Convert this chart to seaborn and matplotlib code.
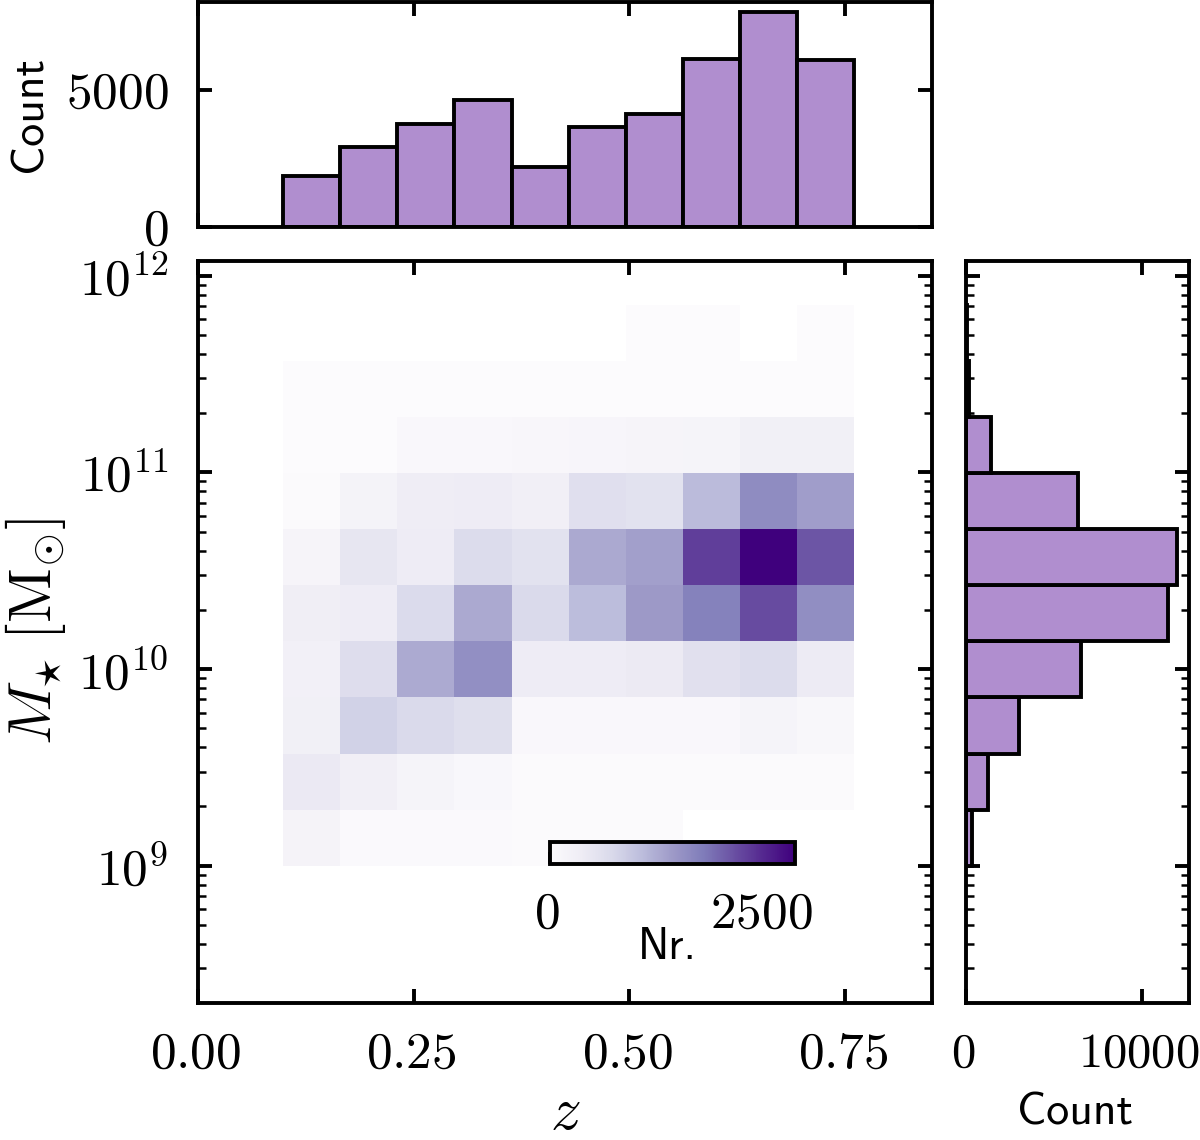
import numpy as np
import pandas as pd
import seaborn as sns
import matplotlib.pyplot as plt
from matplotlib.ticker import LogLocator, NullFormatter
from matplotlib.transforms import ScaledTranslation

z_edges = [0.099, 0.16515, 0.2313, 0.29745, 0.3636, 0.42975, 0.4959, 0.56205, 0.6282, 0.69435, 0.7605]
log_mass_edges = [9.0, 9.285, 9.57, 9.855, 10.14, 10.425, 10.71, 10.995, 11.28, 11.565, 11.85]

# counts per mass bin (bottom to top) and per redshift bin (left to right)
counts_2d = [
    [210, 50, 50, 45, 30, 30, 25, 0, 0, 0],
    [430, 310, 200, 110, 40, 30, 30, 25, 30, 30],
    [300, 820, 720, 630, 90, 90, 90, 90, 200, 120],
    [270, 650, 1270, 1570, 370, 370, 420, 600, 680, 400],
    [340, 370, 700, 1280, 720, 1080, 1450, 1730, 2190, 1580],
    [170, 500, 370, 680, 570, 1280, 1380, 2310, 2858, 2100],
    [40, 220, 350, 370, 320, 620, 570, 1090, 1600, 1400],
    [20, 20, 100, 90, 130, 150, 170, 200, 300, 300],
    [15, 15, 15, 15, 15, 15, 15, 15, 15, 15],
    [0, 0, 0, 0, 0, 0, 10, 10, 0, 10],
]
z_counts = [1855, 2915, 3757, 4635, 2184, 3647, 4122, 6134, 7853, 6098]
mass_counts = [340, 1250, 3020, 6550, 11500, 12000, 6370, 1400, 170, 30]

z_ticks = [0, 0.25, 0.5, 0.75]
z_ticklabels = ['$0.00$', '$0.25$', '$0.50$', '$0.75$']
mass_ticks = [1e9, 1e10, 1e11, 1e12]
mass_ticklabels = ['$10^{9}$', '$10^{10}$', '$10^{11}$', '$10^{12}$']

sns.set_style('ticks')
plt.rcParams['mathtext.fontset'] = 'cm'
plt.rcParams['axes.unicode_minus'] = False
plt.rcParams['font.family'] = ['cmss10', 'DejaVu Sans']
plt.rcParams['axes.formatter.use_mathtext'] = True
for key in ['text.color', 'axes.labelcolor', 'xtick.color', 'ytick.color']:
    plt.rcParams[key] = 'black'

W, H = 1200, 1140
hist_color = '#b08ecf'
lw = 2.8
tick_size = 37


def px_axes(fig, x0, y0, x1, y1):
    return fig.add_axes([x0 / W, 1 - y1 / H, (x1 - x0) / W, (y1 - y0) / H])


def nudge_labels(labels, fig, px):
    # the reference's tick labels sit a little left of their ticks
    for lbl in labels:
        lbl.set_transform(lbl.get_transform() + ScaledTranslation(px / 100, 0, fig.dpi_scale_trans))


fig = plt.figure(figsize=(W / 100, H / 100), dpi=100)
ax_main = px_axes(fig, 197.7, 260.7, 932.3, 1002.7)
ax_top = px_axes(fig, 197.7, 2, 932.3, 226.7)
ax_right = px_axes(fig, 966, 260.7, 1188.7, 1002.7)
cax = px_axes(fig, 550, 842, 794.7, 864)

z_mid = (np.array(z_edges[:-1]) + np.array(z_edges[1:])) / 2
mass_mid = 10 ** ((np.array(log_mass_edges[:-1]) + np.array(log_mass_edges[1:])) / 2)
zz, mm = np.meshgrid(z_mid, mass_mid)
df = pd.DataFrame({'z': zz.ravel(), 'mass': mm.ravel(), 'n': np.array(counts_2d).ravel()})

sns.histplot(data=df, x='z', y='mass', weights='n', bins=[z_edges, log_mass_edges],
             log_scale=(False, True), cmap='Purples', ax=ax_main, cbar=True, cbar_ax=cax,
             cbar_kws={'orientation': 'horizontal'})
sns.histplot(x=z_mid, weights=z_counts, bins=z_edges, ax=ax_top, color=hist_color,
             alpha=1, edgecolor='k', linewidth=lw)
sns.histplot(y=mass_mid, weights=mass_counts, bins=log_mass_edges, log_scale=True, ax=ax_right,
             color=hist_color, alpha=1, edgecolor='k', linewidth=lw)

ax_main.set_xlim(0, 0.851)
ax_top.set_xlim(0, 0.851)
ax_top.set_ylim(0, 8219)
ax_right.set_xlim(0, 12675)
for ax in (ax_main, ax_right):
    ax.set_ylim(10 ** 8.303, 10 ** 12.076)
    ax.set_yticks(mass_ticks)
    ax.yaxis.set_minor_locator(LogLocator(base=10, subs=np.arange(2, 10), numticks=20))
    ax.yaxis.set_minor_formatter(NullFormatter())

ax_main.set_xticks(z_ticks, z_ticklabels)
ax_main.set_yticklabels(mass_ticklabels)
ax_top.set_xticks(z_ticks, [])
ax_top.set_yticks([0, 5000], ['$0$', '$5000$'])
ax_right.set_xticks([0, 10000], ['$0$', '$10000$'])
ax_right.set_yticklabels([])

for ax in (ax_main, ax_top, ax_right):
    ax.tick_params(which='major', direction='in', top=True, right=True, length=10, width=lw,
                   labelsize=tick_size, pad=21)
    ax.tick_params(which='minor', direction='in', left=True, right=True, length=5.5, width=1.8)
    for spine in ax.spines.values():
        spine.set_linewidth(lw)
        spine.set_color('k')
ax_right.tick_params(axis='x', labelsize=35)
nudge_labels(ax_main.get_xticklabels(), fig, -2)
nudge_labels(ax_right.get_xticklabels(), fig, -3)

ax_main.set_xlabel('$z$', fontsize=44)
ax_main.xaxis.set_label_coords(0.5, -0.114)
ax_main.set_ylabel(r'$M_{\star}\;[\mathrm{M}_{\odot}]$', fontsize=43)
ax_main.yaxis.set_label_coords(-0.177, 0.5)
ax_top.set_xlabel('')
ax_top.set_ylabel('Count', fontsize=33)
ax_top.yaxis.set_label_coords(-0.2, 0.5)
ax_right.set_ylabel('')
ax_right.set_xlabel('Count', fontsize=33)
ax_right.xaxis.set_label_coords(0.49, -0.121)

cax.set_xticks([0, 2500], ['$0$', '$2500$'])
cax.tick_params(axis='x', direction='in', length=9, width=lw, labelsize=tick_size, pad=20)
nudge_labels(cax.get_xticklabels(), fig, -3)
cax.set_xlabel('Nr.', fontsize=32)
cax.xaxis.set_label_coords(0.48, -2.85)
for spine in cax.spines.values():
    spine.set_linewidth(lw)
    spine.set_color('k')

fig.savefig('out.png', dpi=100)
